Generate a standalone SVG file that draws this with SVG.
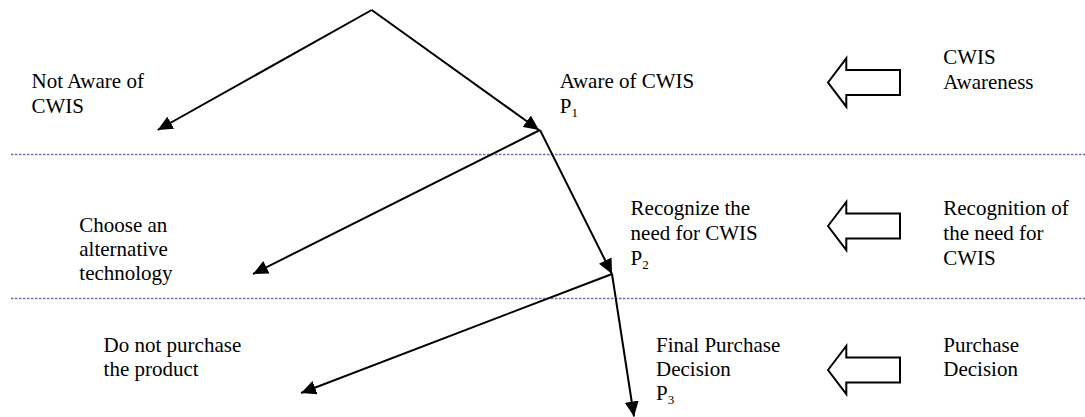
<svg xmlns="http://www.w3.org/2000/svg" width="1085" height="417" viewBox="0 0 1085 417">
<style>
.t{font-family:'Liberation Serif','DejaVu Serif',serif;font-size:21px;fill:#000}
.sub{font-size:13px}
.conn{stroke:#000;stroke-width:2;fill:none}
.div{stroke:#6f6fb5;stroke-width:1.3;stroke-dasharray:2.5 1.5;fill:none}
.hollow{fill:#fff;stroke:#000;stroke-width:2;stroke-linejoin:miter}
</style>
<defs>
<marker id="ah" markerUnits="userSpaceOnUse" markerWidth="16" markerHeight="14" refX="15" refY="7" orient="auto">
<path d="M0,0 L15,7 L0,14 z" fill="#000"/>
</marker>
</defs>
<rect width="1085" height="417" fill="#fff"/>
<g id="dividers">
<line class="div" x1="11" y1="154.5" x2="1085" y2="154.5"/>
<line class="div" x1="11" y1="298.5" x2="1085" y2="298.5"/>
</g>
<g id="connectors">
<line class="conn" x1="371.7" y1="10" x2="157.7" y2="130" marker-end="url(#ah)"/>
<line class="conn" x1="371.7" y1="10" x2="539" y2="130" marker-end="url(#ah)"/>
<line class="conn" x1="540" y1="130" x2="253" y2="274" marker-end="url(#ah)"/>
<line class="conn" x1="540" y1="130" x2="612" y2="274" marker-end="url(#ah)"/>
<line class="conn" x1="612" y1="274" x2="301" y2="393" marker-end="url(#ah)"/>
<line class="conn" x1="612" y1="274" x2="634" y2="416.5" marker-end="url(#ah)"/>
</g>
<g class="t" font-family="Liberation Serif, DejaVu Serif, serif" font-size="21">
<g id="not-aware"><text x="31.5" y="88.3">Not Aware of</text><text x="31.5" y="113.3">CWIS</text></g>
<g id="aware"><text x="559.7" y="88.3">Aware of CWIS</text><text x="559.7" y="113.3">P<tspan class="sub" font-size="13" dy="4">1</tspan></text></g>
<g id="cwis-awareness"><text x="943.3" y="64">CWIS</text><text x="943.3" y="89">Awareness</text></g>
<g id="alternative"><text x="79.3" y="232">Choose an</text><text x="79.3" y="256">alternative</text><text x="79.3" y="280">technology</text></g>
<g id="recognize"><text x="630.6" y="215">Recognize the</text><text x="630.6" y="240">need for CWIS</text><text x="630.6" y="265">P<tspan class="sub" font-size="13" dy="4">2</tspan></text></g>
<g id="recognition"><text x="943.3" y="215">Recognition of</text><text x="943.3" y="240">the need for</text><text x="943.3" y="265">CWIS</text></g>
<g id="no-purchase"><text x="103.6" y="351.7">Do not purchase</text><text x="103.6" y="376">the product</text></g>
<g id="final"><text x="656" y="351.7">Final Purchase</text><text x="656" y="376">Decision</text><text x="656" y="400">P<tspan class="sub" font-size="13" dy="4">3</tspan></text></g>
<g id="purchase-decision"><text x="943.3" y="351.7">Purchase</text><text x="943.3" y="376">Decision</text></g>
</g>
<g id="awareness-arrow"><polygon class="hollow" points="828,82.5 846.3,58.3 846.3,70 900,70 900,95 846.3,95 846.3,106.7"/></g>
<g id="recognition-arrow"><polygon class="hollow" points="828,226 846.3,202 846.3,213.5 900,213.5 900,238.5 846.3,238.5 846.3,250"/></g>
<g id="purchase-arrow"><polygon class="hollow" points="828,370 846.3,346 846.3,357.5 900,357.5 900,382.5 846.3,382.5 846.3,394"/></g>
</svg>
